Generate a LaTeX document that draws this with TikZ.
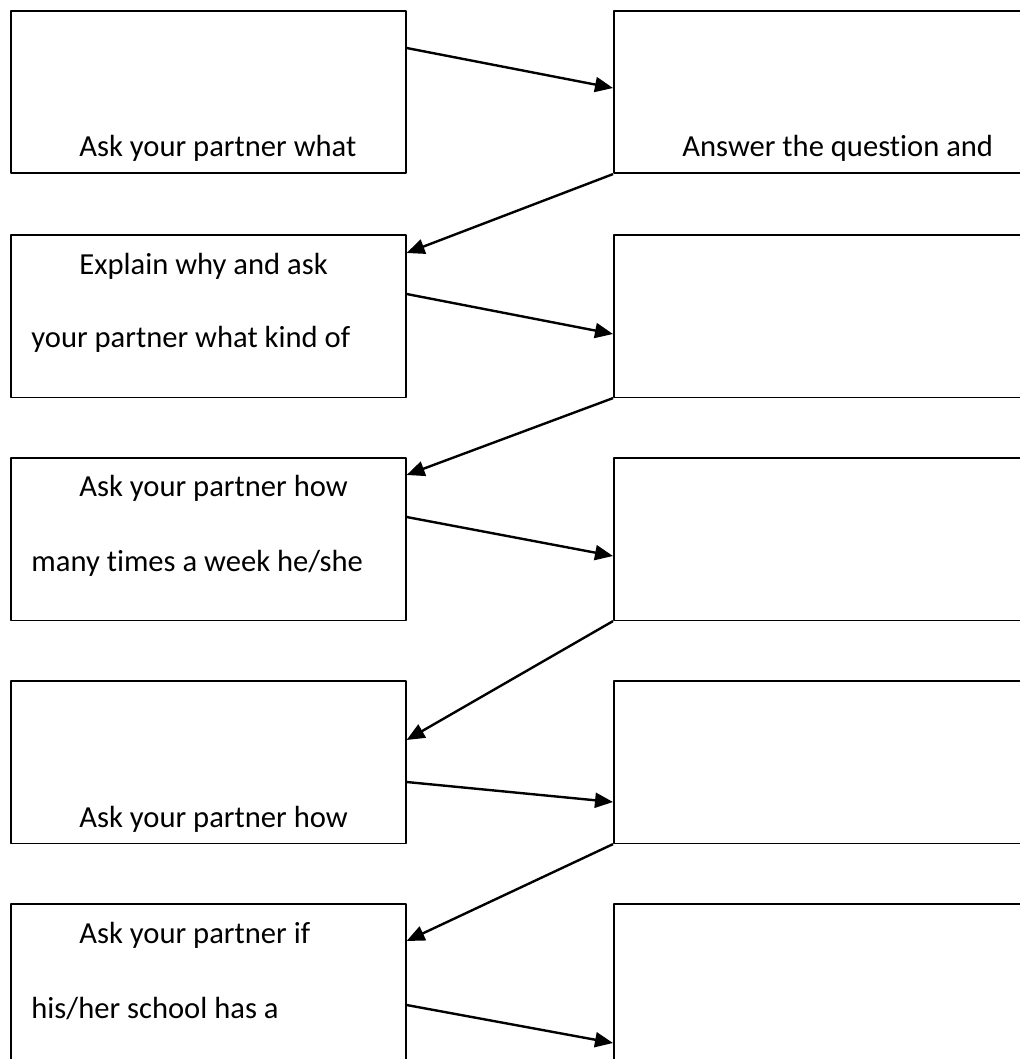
\documentclass[tikz,border=0pt]{standalone}
\usepackage{fontspec}
\setmainfont{Carlito}[Ligatures=NoCommon]
\usetikzlibrary{arrows.meta}
\tikzset{
  box/.style={draw, line width=.8pt, anchor=north west, minimum width=197.5pt, minimum height=81.25pt, inner sep=0pt},
  txt/.style={anchor=base west, inner sep=0pt},
  link/.style={->, line width=1.2pt}
}
\begin{document}
\begin{tikzpicture}[x=.5pt, y=-.5pt, >={Triangle[length=9pt,width=7.5pt]}, line join=round, font=\fontsize{15.3pt}{18pt}\selectfont]
            \clip (0,0) rectangle (1020,1059);
            \foreach \r/\y in {1/10,2/234,3/457,4/680,5/903}{
              \node[box] (q\r) at (10,\y) {};
              \node[box, minimum width=215pt] (a\r) at (613,\y) {};
            }
            % texts
            \node[txt] (t1) at (79,157) {Ask your partner what};
            \node[txt] (u1) at (682,157) {Answer the question and};
            \node[txt] (t2) at (79,274) {Explain why and ask};
            \node[txt] (t2b) at (31,347) {your partner what kind of};
            \node[txt] (t3) at (79,496) {Ask your partner how};
            \node[txt] (t3b) at (31,571) {many times a week he/she};
            \node[txt] (t4) at (79,827) {Ask your partner how};
            \node[txt] (t5) at (79,943) {Ask your partner if};
            \node[txt] (t5b) at (31,1018) {his/her school has a};
            % arrows
            \draw[link] (q1.east |- 0,48) -- (a1.west |- 0,88);
            \draw[link] (a1.south west) -- (q2.east |- 0,253);
            \draw[link] (q2.east |- 0,294) -- (a2.west |- 0,334);
            \draw[link] (a2.south west) -- (q3.east |- 0,475);
            \draw[link] (q3.east |- 0,517) -- (a3.west |- 0,556);
            \draw[link] (a3.south west) -- (q4.east |- 0,740);
            \draw[link] (q4.east |- 0,782) -- (a4.west |- 0,802);
            \draw[link] (a4.south west) -- (q5.east |- 0,941);
            \draw[link] (q5.east |- 0,1005) -- (a5.west |- 0,1043);
\end{tikzpicture}
\end{document}
